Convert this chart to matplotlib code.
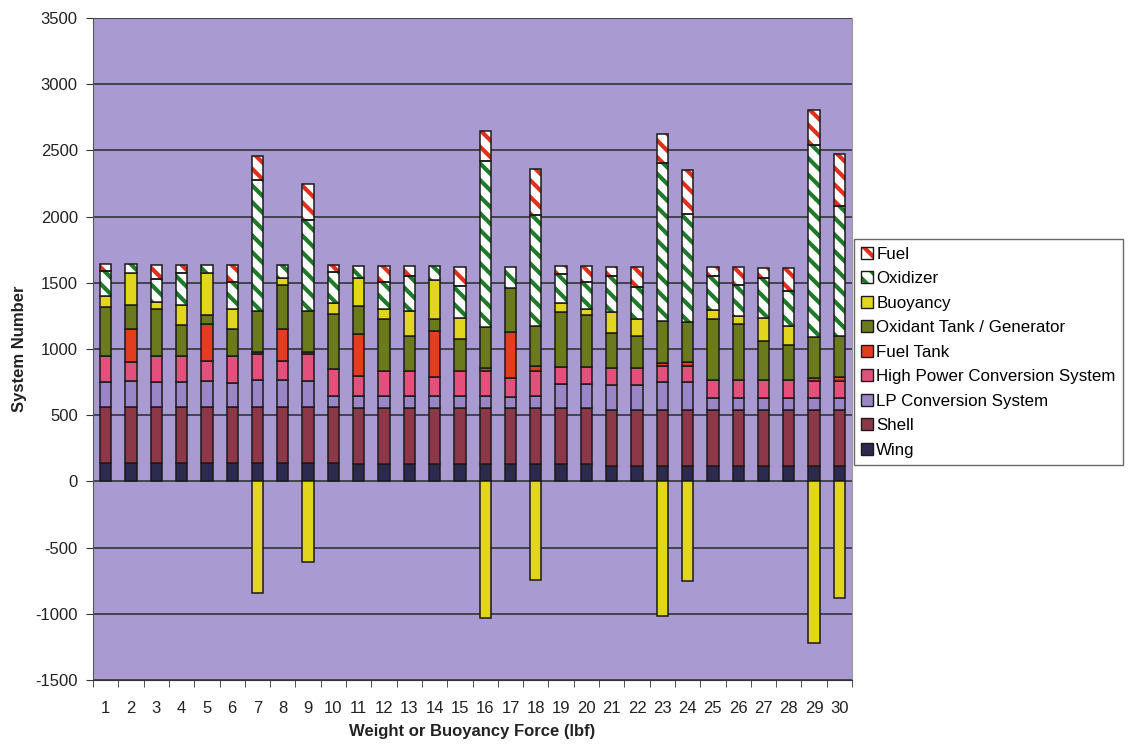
import numpy as np
import matplotlib.pyplot as plt
from matplotlib.patches import Patch

plt.rcParams['font.family'] = ['Liberation Sans', 'DejaVu Sans']
plt.rcParams['hatch.linewidth'] = 3.0
plt.rcParams['axes.unicode_minus'] = False

# system numbers 1..30
systems = np.arange(1, 31)

# stacked components (lbf)
wing = [140] * 10 + [135] * 10 + [120] * 10
shell = [420] * 30
lp_conv = [190, 200, 193, 188, 201, 183, 208, 208, 200, 88,
           88, 88, 88, 88, 88, 88, 81, 88, 180, 180,
           188, 188, 208, 208, 93, 93, 93, 93, 88, 88]
hp_conv = [200, 143, 196, 200, 150, 206, 193, 143, 200, 201,
           150, 193, 193, 143, 193, 193, 142, 193, 126, 133,
           131, 131, 126, 126, 133, 133, 133, 133, 130, 130]
fuel_tank = [0, 251, 0, 0, 276, 0, 20, 243, 20, 0,
             319, 0, 0, 351, 0, 20, 351, 33, 0, 0,
             0, 0, 17, 25, 0, 0, 0, 0, 25, 33]
oxidant_tank = [370, 175, 351, 230, 67, 205, 307, 326, 306, 413,
                213, 393, 263, 87, 243, 308, 334, 305, 421, 388,
                265, 240, 318, 305, 458, 426, 293, 268, 309, 308]
buoyancy = [80, 243, 55, 158, 321, 146, -840, 58, -610, 88,
            213, 71, 188, 301, 158, -1030, 0, -745, 62, 46,
            156, 130, -1020, -750, 68, 57, 175, 140, -1220, -880]
oxidizer = [190, 68, 175, 238, 63, 205, 987, 100, 690, 230,
            92, 205, 263, 100, 238, 1254, 157, 841, 226, 205,
            275, 239, 1195, 816, 263, 231, 301, 268, 1447, 979]
fuel = [50, 0, 108, 63, 0, 133, 180, 0, 269, 58,
        0, 120, 75, 0, 145, 230, 0, 343, 57, 120,
        63, 150, 217, 331, 63, 138, 75, 168, 265, 393]

bar_w = 0.45

fig = plt.figure(figsize=(11.32, 7.45), dpi=100)
ax = fig.add_axes([0.0822, 0.0872, 0.6705, 0.8886])
ax.set_facecolor('#a99bd1')


def draw_segment(vals, bottom, color, hatch=None, hatch_color=None):
    vals = np.asarray(vals, dtype=float)
    keep = vals != 0
    x = systems[keep]
    if hatch:
        ax.bar(x, vals[keep], bar_w, bottom=bottom[keep], color='white',
               edgecolor=hatch_color, hatch=hatch, linewidth=0, zorder=3)
        ax.bar(x, vals[keep], bar_w, bottom=bottom[keep], fill=False,
               edgecolor='#1a1a1a', linewidth=1.1, zorder=4)
    else:
        ax.bar(x, vals[keep], bar_w, bottom=bottom[keep], color=color,
               edgecolor='#1a1a1a', linewidth=1.1, zorder=3)


buoy = np.array(buoyancy, dtype=float)
buoy_pos = np.where(buoy > 0, buoy, 0)
buoy_neg = np.where(buoy < 0, buoy, 0)

colors = {
    'wing': '#2d2a4f',
    'shell': '#8c3848',
    'lp': '#9a85c6',
    'hp': '#e4507c',
    'fuel_tank': '#e23d1e',
    'oxidant': '#6b7a1c',
    'buoy': '#e2d51e',
    'ox_hatch': '#1f7a2a',
    'fuel_hatch': '#e0301c',
}

bottom = np.zeros(30)
for vals, c in [(wing, colors['wing']), (shell, colors['shell']),
                (lp_conv, colors['lp']), (hp_conv, colors['hp']),
                (fuel_tank, colors['fuel_tank']), (oxidant_tank, colors['oxidant']),
                (buoy_pos, colors['buoy'])]:
    draw_segment(vals, bottom, c)
    bottom = bottom + np.asarray(vals, dtype=float)
draw_segment(oxidizer, bottom, None, hatch='\\\\', hatch_color=colors['ox_hatch'])
bottom = bottom + np.asarray(oxidizer, dtype=float)
draw_segment(fuel, bottom, None, hatch='\\\\', hatch_color=colors['fuel_hatch'])

# negative buoyancy stacks below zero
draw_segment(buoy_neg, np.zeros(30), colors['buoy'])

ax.set_xlim(0.5, 30.5)
ax.set_ylim(-1500, 3500)
ax.set_yticks(np.arange(-1500, 3501, 500))
ax.set_xticks(systems)
ax.set_xticks(np.arange(0.5, 31, 1), minor=True)
ax.tick_params(axis='x', which='major', length=0, pad=15, labelsize=12, labelcolor='#222222')
ax.tick_params(axis='x', which='minor', length=5, color='#333333')
ax.tick_params(axis='y', length=5, color='#333333', labelsize=12, labelcolor='#222222', pad=6)
ax.grid(axis='y', color='#2a2a2a', linewidth=1.1, zorder=1)
ax.set_axisbelow(True)
ax.spines['top'].set_visible(False)
ax.spines['right'].set_color('#9a9a9a')
ax.spines['left'].set_color('#555555')
ax.spines['bottom'].set_color('#333333')

ax.set_xlabel('Weight or Buoyancy Force (lbf)', fontsize=12, fontweight='bold', color='#222222', labelpad=6)
ax.set_ylabel('System Number', fontsize=12, fontweight='bold', color='#222222', labelpad=6)

edge = '#1a1a1a'
handles = [
    (Patch(facecolor='white', edgecolor=colors['fuel_hatch'], hatch='\\\\', linewidth=0), Patch(fill=False, edgecolor=edge)),
    (Patch(facecolor='white', edgecolor=colors['ox_hatch'], hatch='\\\\', linewidth=0), Patch(fill=False, edgecolor=edge)),
    Patch(facecolor=colors['buoy'], edgecolor=edge),
    Patch(facecolor=colors['oxidant'], edgecolor=edge),
    Patch(facecolor=colors['fuel_tank'], edgecolor=edge),
    Patch(facecolor=colors['hp'], edgecolor=edge),
    Patch(facecolor=colors['lp'], edgecolor=edge),
    Patch(facecolor=colors['shell'], edgecolor=edge),
    Patch(facecolor=colors['wing'], edgecolor=edge),
]
labels = ['Fuel', 'Oxidizer', 'Buoyancy', 'Oxidant Tank / Generator', 'Fuel Tank',
          'High Power Conversion System', 'LP Conversion System', 'Shell', 'Wing']
leg = fig.legend(handles, labels, loc='upper left', bbox_to_anchor=(0.754, 0.679),
                 fontsize=12.2, frameon=True, fancybox=False, edgecolor='#444444',
                 handlelength=0.7, handleheight=0.7, handletextpad=0.2,
                 labelspacing=0.56, borderpad=0.45, borderaxespad=0)
leg.get_frame().set_linewidth(1.0)

fig.savefig('out.png', dpi=100)
